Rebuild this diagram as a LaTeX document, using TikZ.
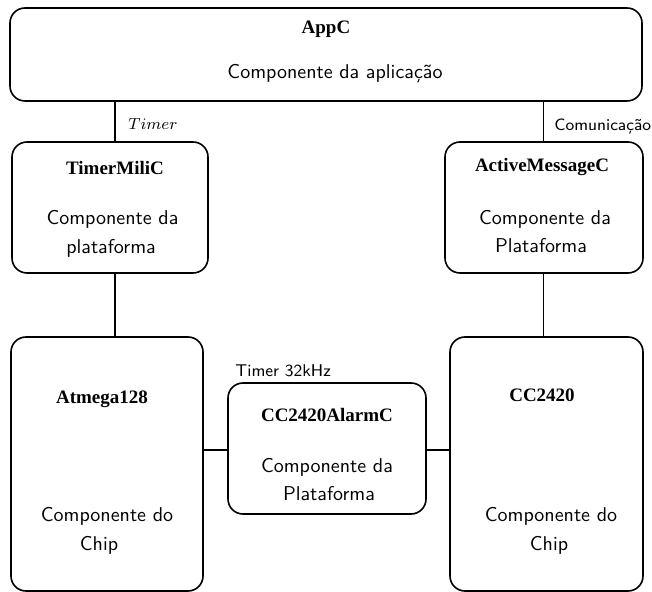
\documentclass[tikz,border=0pt]{standalone}
\usepackage{fontspec}
\newfontfamily\boldserif{Liberation Serif}
\tikzset{
  box/.style={draw, line width=0.8pt, rounded corners=7.5pt, inner sep=0pt},
  ttl/.style={inner sep=0pt, anchor=base, font=\boldserif\bfseries\fontsize{9.5}{11}\selectfont},
  txt/.style={inner sep=0pt, anchor=base, font=\sffamily\fontsize{10}{12}\selectfont},
  lbl/.style={inner sep=0pt, anchor=base west, font=\sffamily\fontsize{8.5}{10}\selectfont},
  conn/.style={line width=0.8pt}
}
\begin{document}
\begin{tikzpicture}[x=0.5pt, y=-0.5pt]
\useasboundingbox (0,0) rectangle (652,592);
% boxes
\node[box, minimum width=316pt, minimum height=46.5pt] (app) at (326,54.5) {};
\node[box, minimum width=98pt, minimum height=65.5pt] (tm) at (110,207.5) {};
\node[box, minimum width=99pt, minimum height=65.5pt] (am) at (544,207.5) {};
\node[box, minimum width=96pt, minimum height=127pt] (at) at (107,464) {};
\node[box, minimum width=96.5pt, minimum height=127pt] (cc) at (546.5,464) {};
\node[box, minimum width=99pt, minimum height=65.5pt] (al) at (327,448.5) {};
% texts
\node[ttl] (appT) at (326,34) {AppC};
\node[txt] (appX) at (335,79) {Componente da aplicação};
\node[ttl] (tmT) at (115,175) {TimerMiliC};
\node[txt] (tmX1) at (112.5,225) {Componente da};
\node[txt] (tmX2) at (111,254) {plataforma};
\node[ttl] (amT) at (542,172) {ActiveMessageC};
\node[txt] (amX1) at (545,225) {Componente da};
\node[txt] (amX2) at (541,253) {Plataforma};
\node[ttl] (atT) at (102,403) {Atmega128};
\node[txt] (atX1) at (107,521) {Componente do};
\node[txt] (atX2) at (99,550) {Chip};
\node[ttl] (ccT) at (542,401) {CC2420};
\node[txt] (ccX1) at (551,521) {Componente do};
\node[txt] (ccX2) at (549,550) {Chip};
\node[ttl] (alT) at (327,422) {CC2420AlarmC};
\node[txt] (alX1) at (327,472) {Componente da};
\node[txt] (alX2) at (329,500) {Plataforma};
% labels
\node[lbl] (lTimer) at (128,130) {$Timer$};
\node[lbl, font=\sffamily\fontsize{8.2}{10}\selectfont] (lCom) at (554,131) {Comunicação};
\node[lbl] (l32) at (235,377) {Timer 32kHz};
% connector guides
\coordinate (xl) at (115,0);
\coordinate (xr) at (543.5,0);
\coordinate (yh) at (0,450);
% connectors
\draw[conn] (app.south -| xl) -- (tm.north -| xl);
\draw[conn] (app.south -| xr) -- (am.north -| xr);
\draw[conn] (tm.south -| xl) -- (at.north -| xl);
\draw[conn] (am.south -| xr) -- (cc.north -| xr);
\draw[conn] (at.east |- yh) -- (al.west |- yh);
\draw[conn] (al.east |- yh) -- (cc.west |- yh);
\end{tikzpicture}
\end{document}
